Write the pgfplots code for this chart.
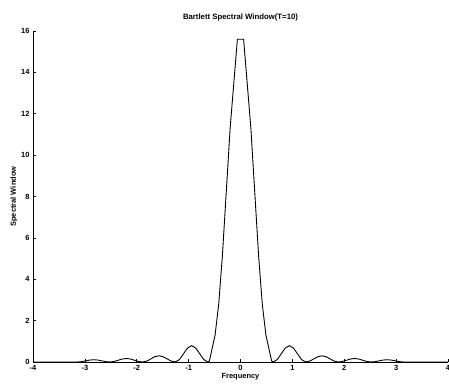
\documentclass[border=0pt]{standalone}
\usepackage{fontspec}
\setmainfont{Liberation Sans}
\usepackage{pgfplots}
\pgfplotsset{compat=1.18}
\begin{document}
\begin{tikzpicture}
\path[use as bounding box] (-33bp,-26bp) rectangle (416bp,362bp);
\begin{axis}[
  at={(0,0)}, anchor=south west,
  scale only axis, width=415bp, height=331bp,
  xmin=-4, xmax=4, ymin=0, ymax=16,
  axis x line=bottom, axis y line=left,
  axis line style={-, line width=0.8pt},
  xtick={-4,-3,...,4}, ytick={0,2,...,16},
  tick align=inside, major tick length=3bp,
  tick style={black, line width=0.7pt},
  tick label style={font=\bfseries\fontsize{7.5}{8}\selectfont},
  /pgf/number format/assume math mode=true,
  xlabel={Frequency}, ylabel={Spectral Window},
  label style={font=\bfseries\fontsize{7.5}{8}\selectfont},
  xlabel style={yshift=4bp},
  ylabel style={yshift=-3bp},
  title={Bartlett Spectral Window(T=10)},
  title style={font=\bfseries\fontsize{7.8}{8}\selectfont, yshift=0bp},
  clip=false,
]
\addplot[black, line width=0.9pt] coordinates {
(-4,0) (-3.142,0) (-3.063,0.016) (-2.985,0.055) (-2.906,0.094) (-2.827,0.11) (-2.749,0.094) (-2.670,0.055) (-2.592,0.016) (-2.513,0)
(-2.435,0.025) (-2.356,0.085) (-2.278,0.145) (-2.199,0.17) (-2.120,0.145) (-2.042,0.085) (-1.963,0.025) (-1.885,0)
(-1.806,0.044) (-1.728,0.15) (-1.649,0.256) (-1.571,0.30) (-1.492,0.256) (-1.414,0.15) (-1.335,0.044) (-1.257,0)
(-1.178,0.115) (-1.099,0.395) (-1.021,0.675) (-0.942,0.79) (-0.864,0.675) (-0.785,0.395) (-0.707,0.115) (-0.628,0)
(-0.6,0.05) (-0.49,1.3) (-0.42,2.8) (-0.35,5.1) (-0.27,8.4) (-0.2,11.3) (-0.06,15.6)
(0.06,15.6) (0.2,11.3) (0.27,8.4) (0.35,5.1) (0.42,2.8) (0.49,1.3) (0.6,0.05)
(0.628,0) (0.707,0.115) (0.785,0.395) (0.864,0.675) (0.942,0.79) (1.021,0.675) (1.099,0.395) (1.178,0.115) (1.257,0)
(1.335,0.044) (1.414,0.15) (1.492,0.256) (1.571,0.30) (1.649,0.256) (1.728,0.15) (1.806,0.044) (1.885,0)
(1.963,0.025) (2.042,0.085) (2.120,0.145) (2.199,0.17) (2.278,0.145) (2.356,0.085) (2.435,0.025) (2.513,0)
(2.592,0.016) (2.670,0.055) (2.749,0.094) (2.827,0.11) (2.906,0.094) (2.985,0.055) (3.063,0.016) (3.142,0) (4,0)
};
\end{axis}
\end{tikzpicture}
\end{document}
